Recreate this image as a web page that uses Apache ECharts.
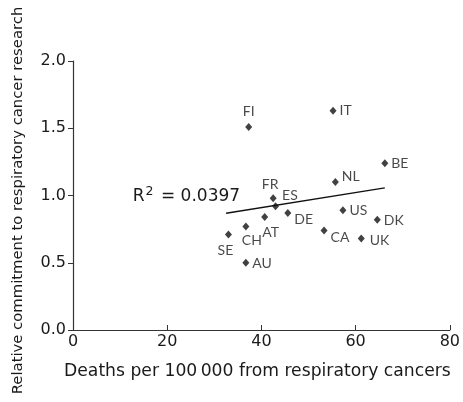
<!DOCTYPE html>
<html>
<head>
<meta charset="utf-8">
<script src="https://cdn.jsdelivr.net/npm/echarts@6/dist/echarts.min.js"></script>
<style>
  html, body { margin: 0; padding: 0; background: #fff; }
  #chart { width: 463px; height: 402px; }
</style>
</head>
<body>
<div id="chart"></div>
<script>
// country codes
var countries = ["SE", "CH", "AU", "FI", "AT", "FR", "ES", "DE", "CA", "IT", "NL", "US", "UK", "DK", "BE"];
// deaths per 100 000 from respiratory cancers
var deaths = [33.0, 36.7, 36.7, 37.3, 40.7, 42.5, 43.0, 45.6, 53.3, 55.2, 55.7, 57.3, 61.2, 64.6, 66.2];
// relative commitment to respiratory cancer research
var commitment = [0.71, 0.77, 0.50, 1.51, 0.84, 0.98, 0.92, 0.87, 0.74, 1.63, 1.10, 0.89, 0.68, 0.82, 1.24];
// fitted line end points
var trendX = [32.5, 66.2];
var trendY = [0.868, 1.056];
var rSquared = "0.0397";

var xTicks = [0, 20, 40, 60, 80];
var yTicks = [0.0, 0.5, 1.0, 1.5, 2.0];

// where each country's label sits relative to its marker
var labelPlace = {
  SE: ["bottom", [-3, 2]], CH: ["bottom", [6, 0]], AU: ["right", [0, 1]],
  FI: ["top", [0, -1]], AT: ["bottom", [6, 1]], FR: ["top", [-3, 0]],
  ES: ["right", [0, -11]], DE: ["right", [0, 6]], CA: ["right", [0, 7]],
  IT: ["right", [0, 0]], NL: ["right", [0, -6]], US: ["right", [0, 0]],
  UK: ["right", [2, 2]], DK: ["right", [0, 1]], BE: ["right", [0, 0]]
};

var font = "'DejaVu Sans', sans-serif";
var ink = "#1a1a1a";

var points = countries.map(function (c, i) {
  var p = labelPlace[c];
  return {
    name: c,
    value: [deaths[i], commitment[i]],
    label: { position: p[0], offset: p[1] }
  };
});

var chart = echarts.init(document.getElementById("chart"));

chart.setOption({
  animation: false,
  grid: { left: 73, right: 10, top: 61, bottom: 72 },
  xAxis: {
    type: "value",
    min: xTicks[0],
    max: xTicks[xTicks.length - 1],
    interval: 20,
    name: "Deaths per 100\u2009000 from respiratory cancers",
    nameLocation: "middle",
    nameGap: 33,
    nameTextStyle: { fontFamily: font, fontSize: 17.2, color: ink, padding: [0, 8, 0, 0] },
    axisLine: { lineStyle: { color: "#333", width: 1.2 } },
    axisTick: { inside: true, length: 5, lineStyle: { color: "#333" } },
    axisLabel: { fontFamily: font, fontSize: 16, color: ink, margin: 4 },
    splitLine: { show: false }
  },
  yAxis: {
    type: "value",
    min: yTicks[0],
    max: yTicks[yTicks.length - 1],
    interval: 0.5,
    name: "Relative commitment to respiratory cancer research",
    nameLocation: "middle",
    nameGap: 47,
    nameTextStyle: { fontFamily: font, fontSize: 14.8, color: ink, padding: [0, 10, 0, 0] },
    axisLine: { show: true, lineStyle: { color: "#333", width: 1.2 } },
    axisTick: { show: true, length: 5, lineStyle: { color: "#333" } },
    axisLabel: {
      fontFamily: font, fontSize: 16, color: ink, margin: 7,
      formatter: function (v) { return v.toFixed(1); }
    },
    splitLine: { show: false }
  },
  series: [
    {
      type: "line",
      data: trendX.map(function (x, i) { return [x, trendY[i]]; }),
      symbol: "none",
      lineStyle: { color: "#111", width: 1.3 },
      silent: true,
      markPoint: {
        symbol: "rect",
        symbolSize: 0,
        data: [{ coord: [trendX[0], trendY[0]] }],
        label: {
          show: true,
          position: "left",
          offset: [19, -17],
          formatter: "{a|R}{s|2}{a| = " + rSquared + "}",
          rich: {
            a: { fontFamily: font, fontSize: 17, color: ink, lineHeight: 22 },
            s: { fontFamily: font, fontSize: 12.5, color: ink, verticalAlign: "top", lineHeight: 11, padding: [0, 2, 0, 1] }
          }
        }
      }
    },
    {
      type: "scatter",
      data: points,
      symbol: "diamond",
      symbolSize: [7, 8],
      itemStyle: { color: "#111" },
      label: {
        show: true,
        formatter: "{b}",
        distance: 3,
        fontFamily: "Lato, sans-serif",
        fontSize: 14,
        color: ink
      }
    }
  ]
});
</script>
</body>
</html>
